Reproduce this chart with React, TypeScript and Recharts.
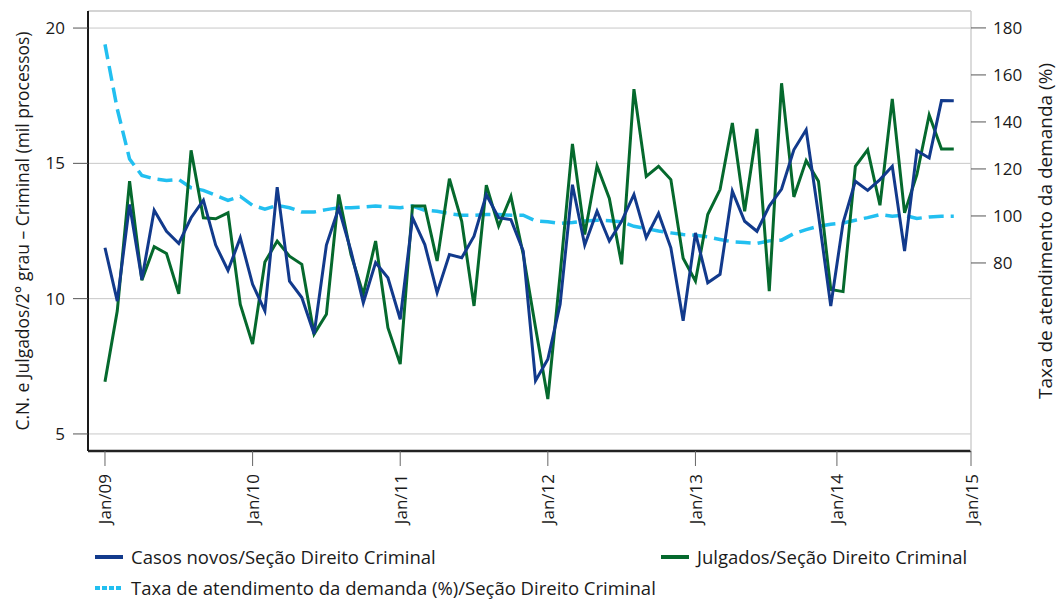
import React from 'react';
import { LineChart, Line, XAxis, YAxis, CartesianGrid, ReferenceLine } from 'recharts';

// Monthly series, Jan/2009 onwards (index 0 = Jan/09)
const casosNovos = [
  11.88, 9.91, 13.48, 10.71, 13.27, 12.49, 12.04, 12.99, 13.64, 11.98, 11.04, 12.25,
  10.53, 9.55, 14.12, 10.65, 10.04, 8.69, 11.98, 13.35, 11.76, 9.85, 11.33, 10.77,
  9.24, 12.99, 12.0, 10.22, 11.63, 11.51, 12.31, 13.84, 12.99, 12.92, 11.76, 6.97,
  7.76, 9.79, 14.21, 11.98, 13.23, 12.13, 12.86, 13.85, 12.25, 13.15, 11.88, 9.18,
  12.43, 10.59, 10.9, 13.97, 12.86, 12.49, 13.42, 14.05, 15.5, 16.24, 13.1, 9.73,
  12.8, 14.34, 14.0, 14.4, 14.89, 11.76, 15.47, 15.2, 17.32, 17.31,
];

const julgados = [
  6.93, 9.55, 14.34, 10.68, 11.92, 11.67, 10.18, 15.48, 12.99, 12.95, 13.17, 9.79,
  8.32, 11.35, 12.13, 11.57, 11.27, 8.69, 9.42, 13.85, 11.63, 10.16, 12.13, 8.93,
  7.58, 13.42, 13.42, 11.39, 14.43, 12.86, 9.73, 14.19, 12.68, 13.78, 11.63, 8.93,
  6.29, 10.9, 15.72, 12.37, 14.91, 13.7, 11.27, 17.74, 14.52, 14.89, 14.4, 11.49,
  10.65, 13.11, 14.03, 16.49, 13.23, 16.27, 10.28, 17.96, 13.76, 15.1, 14.34, 10.34,
  10.26, 14.89, 15.5, 13.45, 17.38, 13.17, 14.58, 16.79, 15.53, 15.53,
];

const taxaAtendimento = [
  173.0, 145.5, 124.2, 117.2, 115.8, 115.1, 115.5, 112.0, 110.9, 108.8, 106.6, 108.3,
  104.5, 102.9, 104.5, 103.5, 101.7, 101.7, 102.7, 103.5, 103.5, 103.8, 104.2, 103.8,
  103.5, 104.2, 102.4, 102.0, 101.0, 100.3, 100.3, 100.6, 100.6, 100.3, 100.3, 97.9,
  97.5, 96.8, 97.2, 97.9, 98.2, 98.0, 97.5, 95.6, 94.6, 93.6, 92.8, 92.1,
  91.8, 91.1, 90.0, 89.0, 88.7, 88.3, 89.4, 89.7, 92.5, 94.2, 95.6, 96.5,
  97.0, 98.2, 99.3, 100.6, 99.9, 100.3, 98.9, 99.6, 99.9, 99.9,
];

const xTickMonths = [0, 12, 24, 36, 48, 59.5, 70.4];
const xTickLabels = ['Jan/09', 'Jan/10', 'Jan/11', 'Jan/12', 'Jan/13', 'Jan/14', 'Jan/15'];
const leftTicks = [5, 10, 15, 20];
const rightTicks = [80, 100, 120, 140, 160, 180];

const data = casosNovos.map((v, i) => ({
  mes: i,
  casos: v,
  julgados: julgados[i],
  taxa: taxaAtendimento[i],
}));

const BLUE = '#123a8c';
const GREEN = '#05692d';
const CYAN = '#22bff0';
const FONT = '"Open Sans", sans-serif';
const LEFT_DOMAIN: [number, number] = [4.37, 20.63];
const RIGHT_DOMAIN: [number, number] = [0, 187.2];

const MonthTick = ({ x, y, payload }: any) => {
  const label = xTickLabels[xTickMonths.indexOf(payload.value)];
  return (
    <text
      x={x}
      y={y}
      transform={`rotate(-90 ${x} ${y})`}
      textAnchor="end"
      dominantBaseline="central"
      fontSize={17}
      fontFamily={FONT}
      fill="#1a1a1a"
    >
      {label}
    </text>
  );
};

const axisTitle = (text: string, dx: number, size: number) => ({ viewBox }: any) => {
  const cx = viewBox.x + dx;
  const cy = viewBox.y + viewBox.height / 2;
  return (
    <text
      x={cx}
      y={cy}
      transform={`rotate(-90 ${cx} ${cy})`}
      textAnchor="middle"
      dominantBaseline="central"
      fontSize={size}
      fontFamily={FONT}
      fill="#1a1a1a"
    >
      {text}
    </text>
  );
};

const legendText: React.CSSProperties = { fontSize: 18.5, fontFamily: FONT, color: '#1a1a1a', whiteSpace: 'nowrap' };

const Swatch = ({ color, dashed }: { color: string; dashed?: boolean }) => (
  <svg width={28} height={8} style={{ marginRight: 8 }}>
    <line x1={0} y1={4} x2={28} y2={4} stroke={color} strokeWidth={4} strokeDasharray={dashed ? '5 2' : undefined} />
  </svg>
);

export default function App() {
  return (
    <div style={{ position: 'absolute', left: 0, top: 0, width: 1062, height: 601, background: '#fff' }}>
      <LineChart width={1062} height={601} data={data} margin={{ top: 11, right: 0, left: 0, bottom: 0 }}>
        <CartesianGrid yAxisId="left" vertical={false} stroke="#c8c8c8" />
        <XAxis
          dataKey="mes"
          type="number"
          domain={[-1.38, 70.4]}
          ticks={xTickMonths}
          interval={0}
          height={150}
          tickSize={15}
          tickMargin={8}
          tick={<MonthTick />}
          axisLine={{ stroke: '#222', strokeWidth: 2.5 }}
          tickLine={{ stroke: '#666' }}
        />
        <YAxis
          yAxisId="left"
          width={88}
          domain={LEFT_DOMAIN}
          ticks={leftTicks}
          allowDataOverflow
          tickSize={15}
          tickMargin={8}
          tick={{ fontSize: 17, fontFamily: FONT, fill: '#1a1a1a' }}
          axisLine={{ stroke: '#1a1a1a', strokeWidth: 2 }}
          tickLine={{ stroke: '#555' }}
          label={axisTitle('C.N. e Julgados/2° grau – Criminal (mil processos)', 22, 17.5)}
        />
        <YAxis
          yAxisId="right"
          orientation="right"
          width={91}
          domain={RIGHT_DOMAIN}
          ticks={rightTicks}
          allowDataOverflow
          tickSize={15}
          tickMargin={7}
          tick={{ fontSize: 17, fontFamily: FONT, fill: '#1a1a1a' }}
          axisLine={{ stroke: '#cfcfcf', strokeWidth: 1.5 }}
          tickLine={{ stroke: '#555' }}
          label={axisTitle('Taxa de atendimento da demanda (%)', 74, 19)}
        />
        <ReferenceLine yAxisId="left" y={LEFT_DOMAIN[1]} stroke="#cfcfcf" strokeWidth={1.5} />
        <Line
          yAxisId="right"
          type="linear"
          dataKey="taxa"
          stroke={CYAN}
          strokeWidth={3.5}
          strokeDasharray="15 7"
          dot={false}
          isAnimationActive={false}
        />
        <Line yAxisId="left" type="linear" dataKey="julgados" stroke={GREEN} strokeWidth={3} dot={false} isAnimationActive={false} />
        <Line yAxisId="left" type="linear" dataKey="casos" stroke={BLUE} strokeWidth={3} dot={false} isAnimationActive={false} />
      </LineChart>

      <div style={{ position: 'absolute', left: 95, top: 544, display: 'flex', alignItems: 'center', ...legendText }}>
        <Swatch color={BLUE} />
        <span>Casos novos/Seção Direito Criminal</span>
      </div>
      <div style={{ position: 'absolute', left: 661, top: 544, display: 'flex', alignItems: 'center', ...legendText }}>
        <Swatch color={GREEN} />
        <span>Julgados/Seção Direito Criminal</span>
      </div>
      <div style={{ position: 'absolute', left: 95, top: 575, display: 'flex', alignItems: 'center', ...legendText }}>
        <Swatch color={CYAN} dashed />
        <span>Taxa de atendimento da demanda (%)/Seção Direito Criminal</span>
      </div>
    </div>
  );
}
